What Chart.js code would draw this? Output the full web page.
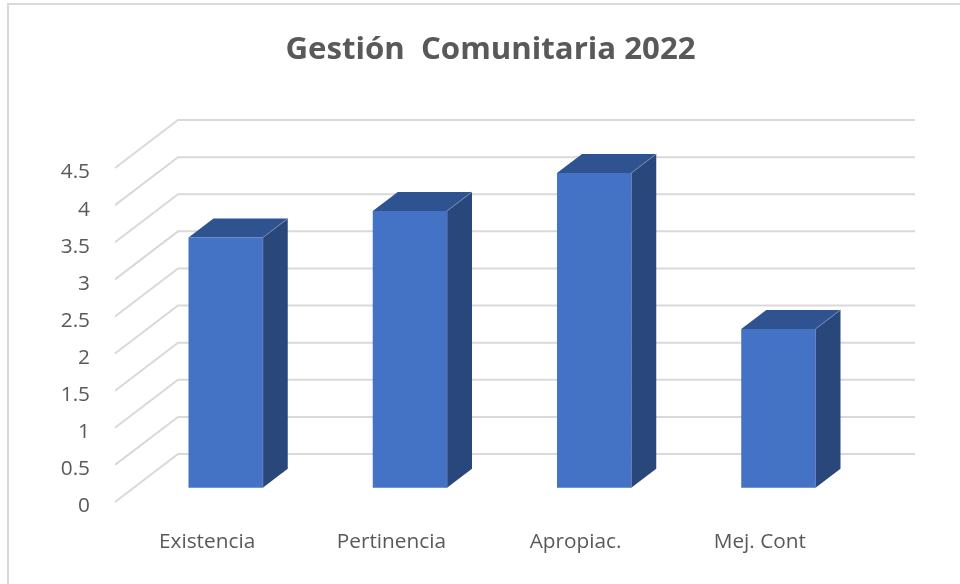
<!DOCTYPE html>
<html>
<head>
<meta charset="utf-8">
<style>
html,body{margin:0;padding:0;background:#fff;width:960px;height:584px;overflow:hidden}
#wrap{position:relative;width:960px;height:584px}
canvas{position:absolute;left:0;top:0}
.frame{position:absolute;background:#d9d9d9}
</style>
<script src="https://cdn.jsdelivr.net/npm/chart.js@4/dist/chart.umd.min.js"></script>
</head>
<body>
<div id="wrap">
<canvas id="c" width="960" height="584"></canvas>
<div class="frame" style="left:7px;top:3px;width:953px;height:2px"></div>
<div class="frame" style="left:7px;top:3px;width:2px;height:581px"></div>
</div>
<script>
const chartTitle = 'Gestión  Comunitaria 2022';
const categories = ['Existencia', 'Pertinencia', 'Apropiac.', 'Mej. Cont'];
const seriesValues = [3.37, 3.73, 4.24, 2.14];
const axisMax = 4.5;
const axisStep = 0.5;

const DEPTH_X = 63, DEPTH_Y = 48;      // floor depth of the 3D box
const BAR_DX = 18.5, BAR_DY = -14.3;   // bars stand mid-way on the floor
const BAR_SX = 25, BAR_SY = 19;        // bar depth
const WALL_RIGHT = 915;

const box3d = {
  id: 'box3d',
  afterLayout(chart) {
    chart.titleBlock.left = 21;
    chart.titleBlock.right = 960;
  },
  beforeDatasetsDraw(chart) {
    const ctx = chart.ctx, y = chart.scales.y, area = chart.chartArea;
    ctx.save();
    ctx.strokeStyle = '#d9d9d9';
    ctx.lineWidth = 2;
    y.ticks.forEach(t => {
      const py = y.getPixelForValue(t.value);
      ctx.beginPath();
      ctx.moveTo(area.left, py);
      ctx.lineTo(area.left + DEPTH_X, py - DEPTH_Y);
      ctx.lineTo(WALL_RIGHT, py - DEPTH_Y);
      ctx.stroke();
    });
    ctx.restore();
    chart.getDatasetMeta(0).data.forEach(b => {
      const l = b.x - b.width / 2 + BAR_DX, r = b.x + b.width / 2 + BAR_DX;
      const t = b.y + BAR_DY, bt = b.base + BAR_DY;
      ctx.save();
      ctx.fillStyle = '#2f5290';
      ctx.beginPath();
      ctx.moveTo(l, t);
      ctx.lineTo(l + BAR_SX, t - BAR_SY);
      ctx.lineTo(r + BAR_SX, t - BAR_SY);
      ctx.lineTo(r, t);
      ctx.closePath();
      ctx.fill();
      ctx.fillStyle = '#2a477c';
      ctx.beginPath();
      ctx.moveTo(r, t);
      ctx.lineTo(r + BAR_SX, t - BAR_SY);
      ctx.lineTo(r + BAR_SX, bt - BAR_SY);
      ctx.lineTo(r, bt);
      ctx.closePath();
      ctx.fill();
      ctx.strokeStyle = '#7f93b8';
      ctx.lineWidth = 0.8;
      ctx.beginPath();
      ctx.moveTo(r, bt);
      ctx.lineTo(r, t);
      ctx.lineTo(r + BAR_SX, t - BAR_SY);
      ctx.stroke();
      ctx.restore();
    });
    ctx.save();
    ctx.translate(BAR_DX, BAR_DY);
  },
  afterDatasetsDraw(chart) {
    chart.ctx.restore();
  }
};

new Chart(document.getElementById('c'), {
  type: 'bar',
  data: {
    labels: categories,
    datasets: [{
      data: seriesValues,
      backgroundColor: '#4472c4',
      borderWidth: 0,
      barPercentage: 0.403,
      categoryPercentage: 1,
      clip: false
    }]
  },
  plugins: [box3d],
  options: {
    responsive: false,
    animation: false,
    layout: { padding: { left: 0, right: 108, top: 0, bottom: 0 } },
    plugins: {
      legend: { display: false },
      tooltip: { enabled: false },
      title: {
        display: true,
        text: chartTitle,
        color: '#595959',
        font: { family: '"Open Sans"', size: 31.2, weight: 'bold', lineHeight: 1.2 },
        padding: { top: 31.4, bottom: 99.2 }
      }
    },
    scales: {
      x: {
        grid: { display: false, drawTicks: false },
        border: { display: false },
        ticks: { color: '#595959', font: { family: '"Open Sans"', size: 20.8 }, padding: 28, maxRotation: 0 },
        afterFit(s) { s.height = 82; }
      },
      y: {
        min: 0,
        max: axisMax,
        grid: { display: false, drawTicks: false },
        border: { display: false },
        ticks: { stepSize: axisStep, color: '#595959', font: { family: '"Open Sans"', size: 20.8 }, padding: 25, labelOffset: 4.5, callback: v => String(v) },
        afterFit(s) { s.width = 115; }
      }
    }
  }
});
</script>
</body>
</html>
